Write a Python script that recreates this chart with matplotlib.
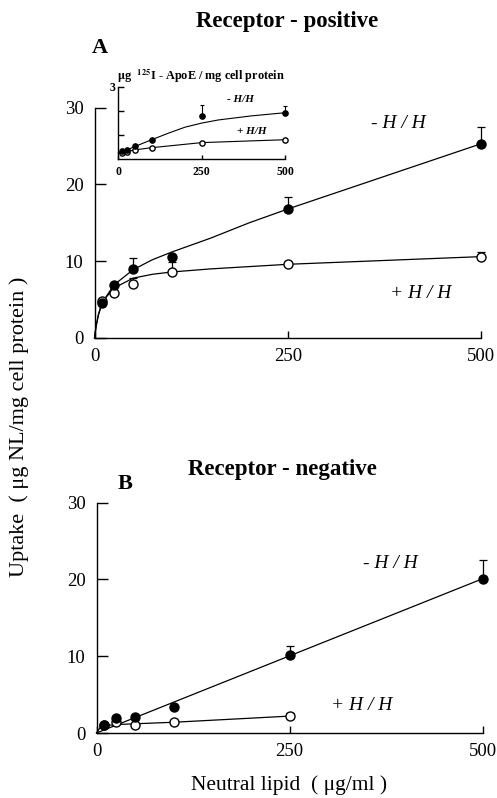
import numpy as np
import matplotlib
matplotlib.use("Agg")
import matplotlib.pyplot as plt

plt.rcParams["font.family"] = ["Liberation Serif", "DejaVu Serif"]
plt.rcParams["mathtext.fontset"] = "stix"

# -----------------------------
# Data
# -----------------------------
conc = [10, 25, 50, 100, 250, 500]

# Panel A - receptor positive
a_minus = [4.5, 6.9, 9.0, 10.6, 16.8, 25.3]
a_minus_err = [0, 0, 1.4, 0, 1.6, 2.2]
a_plus = [4.8, 5.9, 7.0, 8.6, 9.7, 10.6]
a_plus_err = [0, 0, 0.8, 1.3, 0, 0.6]

a_minus_fit_x = [0, 2, 5, 10, 25, 50, 75, 100, 150, 200, 250, 300, 400, 500]
a_minus_fit_y = [0, 1.5, 3.0, 4.6, 6.9, 8.9, 10.2, 11.2, 13.0, 15.0, 16.8, 18.5, 21.9, 25.3]
a_plus_fit_x = [0, 2, 5, 10, 25, 50, 75, 100, 150, 200, 250, 350, 500]
a_plus_fit_y = [0, 1.5, 3.0, 4.7, 6.5, 7.8, 8.3, 8.6, 9.0, 9.3, 9.6, 10.0, 10.6]

# Inset - 125I-ApoE
ins_minus = [0.32, 0.38, 0.55, 0.80, 1.80, 1.92]
ins_minus_err = [0, 0, 0, 0, 0.45, 0.27]
ins_plus = [0.25, 0.30, 0.38, 0.45, 0.68, 0.80]

ins_minus_fit_x = [0, 10, 25, 50, 100, 150, 200, 250, 300, 400, 500]
ins_minus_fit_y = [0.25, 0.30, 0.37, 0.52, 0.80, 1.07, 1.32, 1.49, 1.62, 1.79, 1.92]
ins_plus_fit_x = [0, 10, 25, 50, 100, 250, 500]
ins_plus_fit_y = [0.22, 0.25, 0.30, 0.38, 0.47, 0.68, 0.80]

# Panel B - receptor negative
b_minus = [1.1, 1.9, 2.1, 3.4, 10.2, 20.1]
b_minus_err = [0, 0.3, 0, 0, 1.1, 2.4]
conc_b_plus = [10, 25, 50, 100, 250]
b_plus = [1.0, 1.4, 1.0, 1.4, 2.2]
b_plus_err = [0, 0, 0, 0, 0.4]

b_minus_fit_x = [0, 500]
b_minus_fit_y = [0, 20.1]
b_plus_fit_x = [0, 6, 25, 100, 250]
b_plus_fit_y = [0, 0.9, 1.1, 1.4, 2.2]

xticks = [0, 250, 500]
yticks = [0, 10, 20, 30]

W, H = 497, 798


def fx(px):
    return px / W


def fy(py):
    return 1 - py / H


def style_axes(ax, size=13.5, ylen=8, xlen=5):
    for s in ["top", "right"]:
        ax.spines[s].set_visible(False)
    for s in ["left", "bottom"]:
        ax.spines[s].set_linewidth(1.0)
    ax.tick_params(axis="y", direction="in", length=ylen, width=1.0, labelsize=size, pad=8)
    ax.tick_params(axis="x", direction="in", length=xlen, width=1.0, labelsize=size, pad=7)


def draw_series(ax, x, y, err, fit_x, fit_y, filled, ms=6.5, lw=0.9):
    ax.plot(fit_x, fit_y, color="black", lw=lw, clip_on=False, zorder=2)
    face = "black" if filled else "white"
    ax.errorbar(x, y, yerr=[np.zeros(len(err)), err], fmt="none", ecolor="black",
                elinewidth=lw, capsize=ms * 0.45, capthick=lw, clip_on=False, zorder=3)
    ax.plot(x, y, "o", mfc=face, mec="black", ms=ms, mew=1.0, ls="none",
            clip_on=False, zorder=4)


fig = plt.figure(figsize=(W / 100, H / 100), dpi=100)

# -----------------------------
# Panel A
# -----------------------------
axA = fig.add_axes([fx(94.5), fy(338), fx(481) - fx(94.5), (338 - 107.7) / H])
draw_series(axA, conc, a_plus, a_plus_err, a_plus_fit_x, a_plus_fit_y, False)
draw_series(axA, conc, a_minus, a_minus_err, a_minus_fit_x, a_minus_fit_y, True)
axA.set_xlim(0, 500)
axA.set_ylim(0, 30)
axA.set_xticks(xticks)
axA.set_yticks(yticks)
style_axes(axA)

# -----------------------------
# Inset
# -----------------------------
axI = fig.add_axes([fx(118.3), fy(159), fx(285) - fx(118.3), (159 - 86.7) / H])
draw_series(axI, conc, ins_plus, [0] * 6, ins_plus_fit_x, ins_plus_fit_y, False, ms=3.8, lw=0.8)
draw_series(axI, conc, ins_minus, ins_minus_err, ins_minus_fit_x, ins_minus_fit_y, True, ms=3.8, lw=0.8)
axI.set_xlim(0, 500)
axI.set_ylim(0, 3)
axI.set_xticks(xticks)
axI.set_yticks([1, 2, 3])
axI.set_yticklabels(["", "", "3"])
style_axes(axI, size=8.5, ylen=4, xlen=3)
axI.tick_params(axis="y", pad=2)
axI.tick_params(axis="x", pad=5)
for lab in axI.get_xticklabels() + axI.get_yticklabels():
    lab.set_fontweight("bold")

# -----------------------------
# Panel B
# -----------------------------
axB = fig.add_axes([fx(96.5), fy(733), fx(482.7) - fx(96.5), (733 - 502.7) / H])
draw_series(axB, conc_b_plus, b_plus, b_plus_err, b_plus_fit_x, b_plus_fit_y, False)
draw_series(axB, conc, b_minus, b_minus_err, b_minus_fit_x, b_minus_fit_y, True)
axB.set_xlim(0, 500)
axB.set_ylim(0, 30)
axB.set_xticks(xticks)
axB.set_yticks(yticks)
style_axes(axB)

# -----------------------------
# Text
# -----------------------------
fig.text(fx(287), fy(21), "Receptor - positive", ha="center", va="center",
         fontsize=16.5, fontweight="bold")
fig.text(fx(100), fy(48), "A", ha="center", va="center", fontsize=16, fontweight="bold")
fig.text(fx(282), fy(470), "Receptor - negative", ha="center", va="center",
         fontsize=16.5, fontweight="bold")
fig.text(fx(125), fy(484), "B", ha="center", va="center", fontsize=16, fontweight="bold")

fig.text(fx(117), fy(76), r"$\mathbf{\mu}$g  $^{\mathbf{125}}$I - ApoE / mg cell protein",
         ha="left", va="center", fontsize=8.8, fontweight="bold")
fig.text(fx(240), fy(99), "- H/H", ha="center", va="center", fontsize=8,
         fontweight="bold", style="italic")
fig.text(fx(252), fy(131.5), "+ H/H", ha="center", va="center", fontsize=8,
         fontweight="bold", style="italic")

fig.text(fx(398), fy(123), "- H / H", ha="center", va="center", fontsize=14, style="italic")
fig.text(fx(421), fy(293), "+ H / H", ha="center", va="center", fontsize=14, style="italic")
fig.text(fx(390), fy(563), "- H / H", ha="center", va="center", fontsize=14, style="italic")
fig.text(fx(362), fy(705), "+ H / H", ha="center", va="center", fontsize=14, style="italic")

fig.text(fx(19), fy(427), "Uptake  ( μg NL/mg cell protein )", ha="center", va="center",
         rotation=90, fontsize=16)
fig.text(fx(289), fy(785), "Neutral lipid  ( μg/ml )", ha="center", va="center", fontsize=15.5)

fig.savefig("out.png", dpi=100)
